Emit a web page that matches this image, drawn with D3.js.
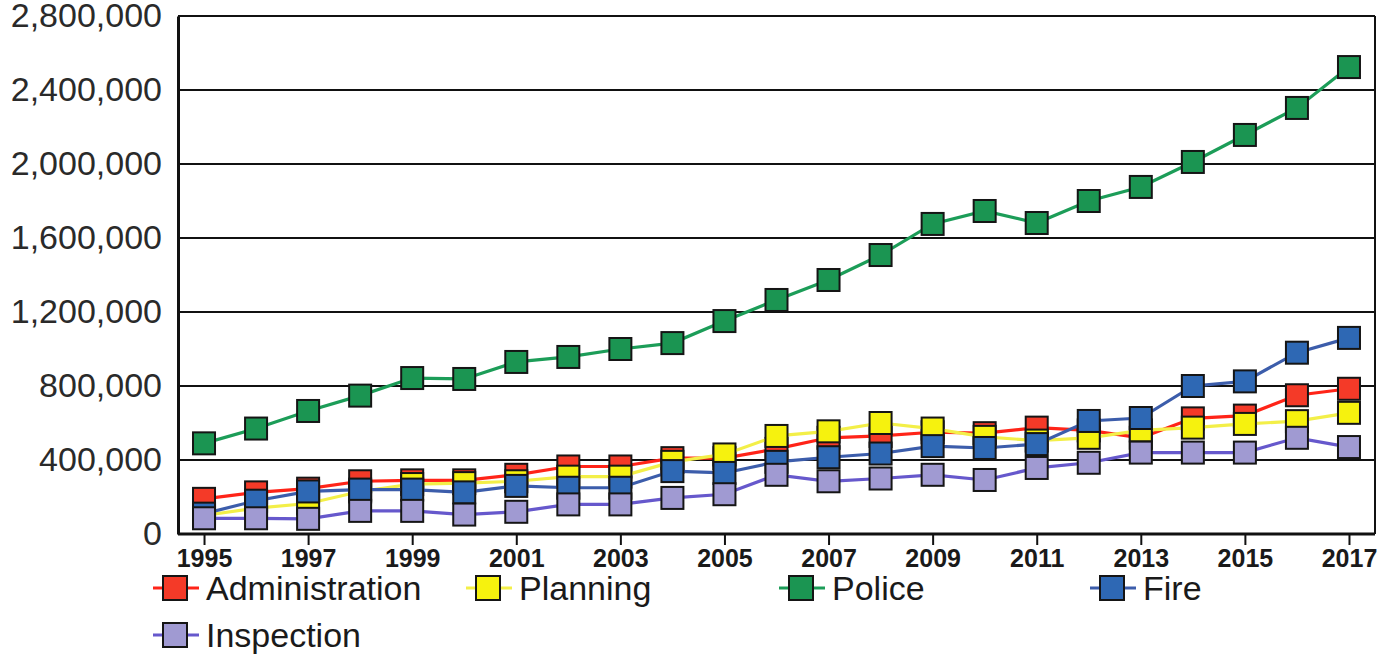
<!DOCTYPE html>
<html><head><meta charset="utf-8">
<script src="https://cdn.jsdelivr.net/npm/d3@7"></script>
<style>html,body{margin:0;padding:0;background:#fff;}svg{display:block;}</style>
</head><body>
<svg id="chart" width="1377" height="658"></svg>
<script>
const years = [1995,1996,1997,1998,1999,2000,2001,2002,2003,2004,2005,2006,2007,2008,2009,2010,2011,2012,2013,2014,2015,2016,2017];
const xTickYears = [1995,1997,1999,2001,2003,2005,2007,2009,2011,2013,2015,2017];
const yTicks = [0,400000,800000,1200000,1600000,2000000,2400000,2800000];
const seriesNames = ["Administration","Planning","Police","Fire","Inspection"];
const administration = [190000,225000,245000,285000,290000,290000,320000,365000,365000,410000,410000,460000,520000,530000,550000,545000,575000,560000,520000,625000,640000,750000,785000];
const planning = [100000,140000,165000,230000,270000,275000,285000,310000,310000,390000,430000,530000,555000,600000,570000,525000,505000,520000,560000,575000,595000,610000,655000];
const police = [490000,570000,665000,748000,843000,838000,930000,957000,1000000,1032000,1151000,1265000,1373000,1508000,1676000,1746000,1681000,1800000,1876000,2011000,2157000,2303000,2524000];
const fire = [110000,180000,230000,240000,240000,225000,260000,250000,250000,340000,330000,390000,415000,435000,475000,465000,486000,611000,627000,800000,825000,980000,1060000];
const inspection = [85000,85000,82000,125000,125000,105000,120000,160000,160000,195000,215000,320000,285000,300000,320000,292000,357000,385000,440000,440000,440000,520000,470000];

const fills = ["#f43a28","#f6f20e","#1b9552","#2e68b4","#a09ad2"];
const strokes = ["#ff2418","#f3ef48","#1c9d58","#3c5dab","#6658cc"];
const allValues = [administration, planning, police, fire, inspection];

const svg = d3.select("#chart");
const plotLeft = 178, plotRight = 1375, plotTop = 16, plotBottom = 534;
const x = d3.scaleLinear().domain([1994.5, 2017.5]).range([plotLeft, plotRight]);
const y = d3.scaleLinear().domain([0, 2800000]).range([plotBottom, plotTop]);

// gridlines
svg.append("g").selectAll("line").data(yTicks.slice(1)).join("line")
  .attr("x1", plotLeft).attr("x2", plotRight).attr("y1", d=>y(d)).attr("y2", d=>y(d))
  .attr("stroke", "#111").attr("stroke-width", 2);

// y axis
const yAxis = d3.axisLeft(y).tickValues(yTicks).tickSize(0).tickPadding(16)
  .tickFormat(d3.format(","));
const gy = svg.append("g").attr("transform", `translate(${plotLeft},0)`).call(yAxis);
gy.select(".domain").attr("stroke", "#111").attr("stroke-width", 3);
gy.selectAll("text").attr("font-family", "Liberation Sans, Arial, sans-serif")
  .attr("font-size", 34).attr("fill", "#2a2a2a");

// right border
svg.append("line").attr("x1", plotRight).attr("x2", plotRight).attr("y1", plotTop).attr("y2", plotBottom)
  .attr("stroke", "#111").attr("stroke-width", 2);

// x axis
const xAxis = d3.axisBottom(x).tickValues(xTickYears).tickSize(11).tickPadding(4).tickFormat(d3.format("d"));
const gx = svg.append("g").attr("transform", `translate(0,${plotBottom})`).call(xAxis);
gx.select(".domain").attr("stroke", "#111").attr("stroke-width", 3).attr("d", `M${plotLeft},0H${plotRight}`);
gx.selectAll(".tick line").attr("stroke", "#111").attr("stroke-width", 2);
gx.selectAll("text").attr("font-family", "Liberation Sans, Arial, sans-serif")
  .attr("font-size", 25).attr("font-weight", "bold").attr("fill", "#1a1a1a");

// series
const line = d3.line().x((d,i)=>x(years[i])).y(d=>y(d));
const ms = 22;
allValues.forEach((vals, s) => {
  const g = svg.append("g");
  g.append("path").datum(vals).attr("d", line).attr("fill", "none")
    .attr("stroke", strokes[s]).attr("stroke-width", 3.2);
  g.selectAll("rect").data(vals).join("rect")
    .attr("x", (d,i)=>x(years[i]) - ms/2).attr("y", d=>y(d) - ms/2)
    .attr("width", ms).attr("height", ms)
    .attr("fill", fills[s]).attr("stroke", "#151515").attr("stroke-width", 2);
});

// legend
const legendPos = [[175,588],[488,588],[801,588],[1112,588],[175,635]];
seriesNames.forEach((name, s) => {
  const [cx, cy] = legendPos[s];
  const g = svg.append("g").attr("transform", `translate(${cx},${cy})`);
  g.append("line").attr("x1", -22).attr("x2", 24).attr("y1", 0).attr("y2", 0)
    .attr("stroke", strokes[s]).attr("stroke-width", 3);
  g.append("rect").attr("x", -12).attr("y", -12).attr("width", 24).attr("height", 24)
    .attr("fill", fills[s]).attr("stroke", "#151515").attr("stroke-width", 2);
  g.append("text").attr("x", 31).attr("y", 0).attr("dy", "0.36em")
    .attr("font-family", "Liberation Sans, Arial, sans-serif").attr("font-size", 34)
    .attr("fill", "#1a1a1a").text(name);
});
</script>
</body></html>
